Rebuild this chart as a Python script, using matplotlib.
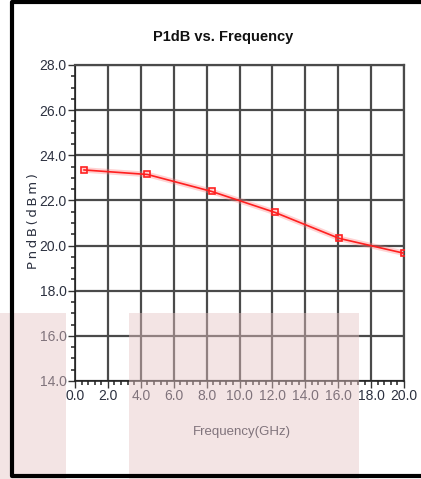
import matplotlib
matplotlib.use("Agg")
import matplotlib.pyplot as plt
from matplotlib.lines import Line2D
from matplotlib.patches import Rectangle
from matplotlib.ticker import MultipleLocator, FormatStrFormatter

# data
freq = [0.55, 4.4, 8.3, 12.15, 16.05, 20.0]
p1db = [23.35, 23.15, 22.4, 21.47, 20.32, 19.66]

x_ticks = [0, 2, 4, 6, 8, 10, 12, 14, 16, 18, 20]
y_ticks = [14, 16, 18, 20, 22, 24, 26, 28]

W, H = 421, 479
plt.rcParams["font.family"] = ["Liberation Sans", "DejaVu Sans"]

fig = plt.figure(figsize=(W / 100, H / 100), dpi=100)
fig.patch.set_facecolor("white")

ax = fig.add_axes([75 / W, (H - 381) / H, 329 / W, 316 / H])
ax.set_xlim(0, 20)
ax.set_ylim(14, 28)

ax.set_xticks(x_ticks)
ax.set_yticks(y_ticks)
ax.xaxis.set_minor_locator(MultipleLocator(0.4))
ax.yaxis.set_minor_locator(MultipleLocator(0.5))
ax.xaxis.set_major_formatter(FormatStrFormatter("%.1f"))
ax.yaxis.set_major_formatter(FormatStrFormatter("%.1f"))
ax.tick_params(which="major", direction="out", length=5, width=1, color="#333333",
               labelsize=10, labelcolor="#2c3140", pad=1)
ax.tick_params(which="minor", direction="out", length=3, width=1.2, color="#333333")

ax.grid(True, which="major", color="#4a4a4a", lw=1.6)
ax.set_axisbelow(True)
for s in ["top", "right"]:
    ax.spines[s].set_color("#4a4a4a")
    ax.spines[s].set_linewidth(1.6)
for s in ["left", "bottom"]:
    ax.spines[s].set_color("#222222")
    ax.spines[s].set_linewidth(1.2)

# line with soft glow
ax.plot(freq, p1db, color="#ff8080", lw=4, alpha=0.35, solid_capstyle="round", zorder=3)
ax.plot(freq, p1db, color="#ff2020", lw=1.2, marker="s", ms=5, mfc="none", mec="#ff2020",
        mew=1.2, zorder=4)

fig.text(223 / W, 1 - 37 / H, "P1dB vs. Frequency", ha="center", va="center",
         fontsize=10.5, fontweight="bold", color="#111111")
fig.text(242 / W, 1 - 432 / H, "Frequency(GHz)", ha="center", va="center",
         fontsize=9.5, color="#2c3140")
fig.text(33 / W, 1 - 221 / H, "P\u2009n\u2009d\u2009B\u2009(\u2009d\u2009B\u2009m\u2009)",
         ha="center", va="center", rotation=90,
         fontsize=9.5, color="#2c3140", family=["DejaVu Sans"])

# translucent pink overlays
for x0, x1 in [(0, 66), (129, 359)]:
    fig.patches.append(Rectangle((x0 / W, 0), (x1 - x0) / W, (H - 313) / H,
                                 transform=fig.transFigure, fc="#e6c4c4", ec="none",
                                 alpha=0.45, zorder=10))

# outer black frame (open on the right)
frame_x = [W + 5, 12, 12, W + 5]
frame_y = [2, 2, 476, 476]
fig.add_artist(Line2D([x / W for x in frame_x], [1 - y / H for y in frame_y],
                      transform=fig.transFigure, color="black", lw=3, zorder=11))

fig.savefig("out.png", dpi=100)
